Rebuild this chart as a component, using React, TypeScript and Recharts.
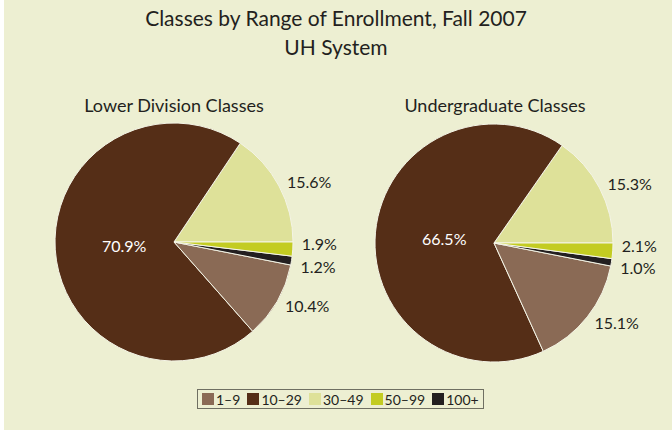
import React from 'react';
import { PieChart, Pie, Cell, Legend } from 'recharts';

// slice order follows the reference: counter-clockwise from 3 o'clock
const sliceRanges = ['30–49', '10–29', '1–9', '100+', '50–99'];
const lowerDivision = [15.6, 70.9, 10.4, 1.2, 1.9];
const undergraduate = [15.3, 66.5, 15.1, 1.0, 2.1];

const legendRanges = ['1–9', '10–29', '30–49', '50–99', '100+'];

const colors: Record<string, string> = {
  '1–9': '#8a6a55',
  '10–29': '#552e17',
  '30–49': '#dee199',
  '50–99': '#c3cc22',
  '100+': '#231f20'
};

const font = 'Lato, "Open Sans", sans-serif';
const textColor = '#231f20';

const toRows = (values: number[]) =>
  sliceRanges.map((name, i) => ({ name, value: values[i] }));

const RAD = Math.PI / 180;

const renderLabel = (props: any) => {
  const { cx, cy, midAngle, outerRadius, value } = props;
  if (value > 50) {
    const r = outerRadius * 0.42;
    return (
      <text
        x={cx + r * Math.cos(midAngle * RAD)}
        y={cy - r * Math.sin(midAngle * RAD)}
        fill='#ffffff'
        fontSize={16}
        fontFamily={font}
        textAnchor='middle'
        dominantBaseline='central'
      >
        {value.toFixed(1)}%
      </text>
    );
  }
  const r = outerRadius + 9;
  // the two thin slices near 3 o'clock get pushed apart so their labels don't collide
  let dy = 0;
  if (value < 3) dy = midAngle > 354 ? -6 : 4;
  return (
    <text
      x={cx + r * Math.cos(midAngle * RAD)}
      y={cy - r * Math.sin(midAngle * RAD) + dy}
      fill={textColor}
      fontSize={16}
      fontFamily={font}
      textAnchor='start'
      dominantBaseline='central'
    >
      {value.toFixed(1)}%
    </text>
  );
};

const renderLegend = () => (
  <div
    style={{
      display: 'inline-flex',
      alignItems: 'center',
      border: '1.5px solid #6f6f62',
      height: 18,
      padding: '0 4px',
      fontFamily: font,
      fontSize: 14,
      color: textColor
    }}
  >
    {legendRanges.map((name, i) => (
      <span
        key={name}
        style={{ display: 'inline-flex', alignItems: 'center', marginLeft: i === 0 ? 0 : 7 }}
      >
        <span
          style={{ width: 12, height: 12, background: colors[name], marginRight: 2, display: 'inline-block' }}
        />
        {name}
      </span>
    ))}
  </div>
);

export default function App() {
  return (
    <div style={{ position: 'absolute', left: 0, top: 0, width: 672, height: 433, background: '#ffffff' }}>
      <div style={{ position: 'absolute', left: 4, top: 0, width: 668, height: 430, background: '#edefd2' }} />
      <div
        style={{
          position: 'absolute',
          left: 0,
          top: 3,
          width: 672,
          textAlign: 'center',
          fontFamily: font,
          fontSize: 21,
          lineHeight: '29px',
          color: textColor
        }}
      >
        Classes by Range of Enrollment, Fall 2007
        <br />
        UH System
      </div>
      <div
        style={{ position: 'absolute', left: 74, top: 94, width: 200, textAlign: 'center', fontFamily: font, fontSize: 18, color: textColor }}
      >
        Lower Division Classes
      </div>
      <div
        style={{ position: 'absolute', left: 395, top: 94, width: 200, textAlign: 'center', fontFamily: font, fontSize: 18, color: textColor }}
      >
        Undergraduate Classes
      </div>
      <div style={{ position: 'absolute', left: 0, top: 0 }}>
        <PieChart width={672} height={433} margin={{ top: 0, right: 0, bottom: 0, left: 0 }}>
          <Pie
            data={toRows(lowerDivision)}
            dataKey='value'
            nameKey='name'
            cx={174}
            cy={242}
            outerRadius={119}
            startAngle={0}
            endAngle={360}
            stroke='#f4f4e6'
            strokeWidth={1}
            label={renderLabel}
            labelLine={false}
            isAnimationActive={false}
          >
            {sliceRanges.map((name) => (
              <Cell key={name} fill={colors[name]} />
            ))}
          </Pie>
          <Pie
            data={toRows(undergraduate)}
            dataKey='value'
            nameKey='name'
            cx={494}
            cy={243}
            outerRadius={119}
            startAngle={0}
            endAngle={360}
            stroke='#f4f4e6'
            strokeWidth={1}
            label={renderLabel}
            labelLine={false}
            isAnimationActive={false}
          >
            {sliceRanges.map((name) => (
              <Cell key={name} fill={colors[name]} />
            ))}
          </Pie>
          <Legend
            content={renderLegend}
            wrapperStyle={{ position: 'absolute', left: 197, top: 389, width: 'auto' }}
          />
        </PieChart>
      </div>
    </div>
  );
}
